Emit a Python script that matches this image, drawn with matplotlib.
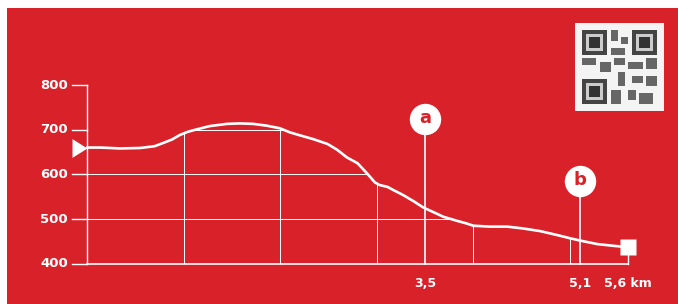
import numpy as np
import matplotlib
matplotlib.use("Agg")
import matplotlib.pyplot as plt
from matplotlib.patches import Rectangle

# perfil de altitud (km, m)
dist_km = [0, 0.14, 0.34, 0.55, 0.70, 0.81, 0.88, 0.96, 1.04, 1.14, 1.27,
           1.45, 1.58, 1.72, 1.86, 2.0, 2.10, 2.21, 2.34, 2.49, 2.59, 2.69,
           2.80, 2.90, 2.98, 3.03, 3.11, 3.17, 3.27, 3.38, 3.48, 3.58, 3.69,
           3.83, 3.93, 4.0, 4.17, 4.35, 4.51, 4.69, 4.87, 5.0, 5.10, 5.28,
           5.45, 5.6]
elev_m = [660, 660, 658, 659, 663, 672, 678, 688, 695, 701, 708,
          713, 714, 713, 709, 703, 694, 687, 679, 668, 655, 638,
          625, 602, 582, 576, 572, 565, 554, 540, 526, 516, 505,
          496, 490, 485, 483, 483, 479, 473, 464, 457, 452, 444,
          440, 437]

y_ticks = [400, 500, 600, 700, 800]
grid_km = [1, 2, 3, 4, 5]
poi_names = ["a", "b"]
poi_km = [3.5, 5.1]
poi_elev = [724, 586]
x_labels = ["3,5", "5,1", "5,6 km"]
x_label_km = [3.5, 5.1, 5.6]

RED = "#d92129"
W = "white"

fig = plt.figure(figsize=(6.78, 3.04), dpi=100)
fig.patch.set_facecolor("white")
ax = fig.add_axes([0, 0, 1, 1])
ax.set_xlim(-0.9006, 6.118)
ax.set_ylim(309.8, 990.3)
ax.axis("off")

# fondo rojo
ax.add_patch(Rectangle((7 / 678, 0), 1, 1 - 8 / 304, transform=ax.transAxes,
                       facecolor=RED, edgecolor="none", zorder=0))

# zona bajo la curva para recortar la rejilla
fill = ax.fill_between(dist_km, elev_m, 400, facecolor="none", lw=0)
clip = fill.get_paths()[0]

for yv in y_ticks[1:-1]:
    ln, = ax.plot([0, 5.6], [yv, yv], color=W, lw=0.7, zorder=2)
    ln.set_clip_path(clip, ax.transData)
for xv in grid_km:
    ln, = ax.plot([xv, xv], [400, 800], color=W, lw=0.7, zorder=2)
    ln.set_clip_path(clip, ax.transData)

# ejes
ax.plot([0, 0], [400, 800], color=W, lw=1.0, zorder=3)
ax.plot([0, 5.6], [400, 400], color=W, lw=1.2, zorder=3)
for yv in y_ticks:
    ax.plot([-0.155, 0], [yv, yv], color=W, lw=1.0, zorder=3)
    ax.annotate(str(yv), (-0.155, yv), xytext=(-3, 0), textcoords="offset points",
                ha="right", va="center", color=W, fontsize=9.5, fontweight="bold")

for lab, xv in zip(x_labels, x_label_km):
    ax.annotate(lab, (xv, 400), xytext=(0, -14.5), textcoords="offset points",
                ha="center", va="center", color=W, fontsize=9, fontweight="bold")

# puntos de interes
for name, xv, yv in zip(poi_names, poi_km, poi_elev):
    ax.plot([xv, xv], [400, yv], color=W, lw=1.2, zorder=3)
    ax.plot(xv, yv, "o", ms=22.6, color=W, mec="none", zorder=5)
    ax.text(xv, yv + 2, name, ha="center", va="center", color=RED,
            fontsize=13, fontweight="bold", zorder=6)

# perfil
ax.plot(dist_km, elev_m, color=W, lw=1.9, zorder=4,
        solid_capstyle="round", solid_joinstyle="round")

# inicio y fin
tri = [(-0.8, -0.5), (-0.8, 0.5), (0, 0)]
ax.plot(dist_km[0], elev_m[0], marker=tri, ms=21.6, color=W, mec="none", zorder=5)
ax.plot([dist_km[-1], dist_km[-1]], [400, elev_m[-1]], color=W, lw=1.0, zorder=3)
ax.plot(dist_km[-1], elev_m[-1], "s", ms=11.9, color=W, mec="none", zorder=5)

# codigo QR (decorativo)
qr = fig.add_axes([575 / 678, 1 - 111 / 304, 89 / 678, 88 / 304])
qr.set_xlim(0, 25)
qr.set_ylim(25, 0)
qr.axis("off")
qr.add_patch(Rectangle((0, 0), 25, 25, facecolor="#f4f4f4", edgecolor="none"))
for fx, fy in [(2, 2), (16, 2), (2, 16)]:
    qr.add_patch(Rectangle((fx, fy), 7, 7, facecolor="#444444", edgecolor="none"))
    qr.add_patch(Rectangle((fx + 1, fy + 1), 5, 5, facecolor="#cccccc", edgecolor="none"))
    qr.add_patch(Rectangle((fx + 2, fy + 2), 3, 3, facecolor="#333333", edgecolor="none"))
for bx, by, bw, bh in [(10, 2, 2, 3), (13, 4, 2, 2), (10, 7, 4, 2), (2, 10, 4, 2),
                       (7, 11, 3, 3), (11, 10, 3, 2), (15, 11, 4, 2), (20, 10, 3, 3),
                       (12, 14, 2, 4), (16, 15, 3, 2), (20, 15, 3, 3), (10, 19, 3, 4),
                       (15, 19, 2, 3), (18, 20, 4, 3)]:
    qr.add_patch(Rectangle((bx, by), bw, bh, facecolor="#666666", edgecolor="none"))

fig.savefig("out.png", dpi=100, facecolor=fig.get_facecolor())
